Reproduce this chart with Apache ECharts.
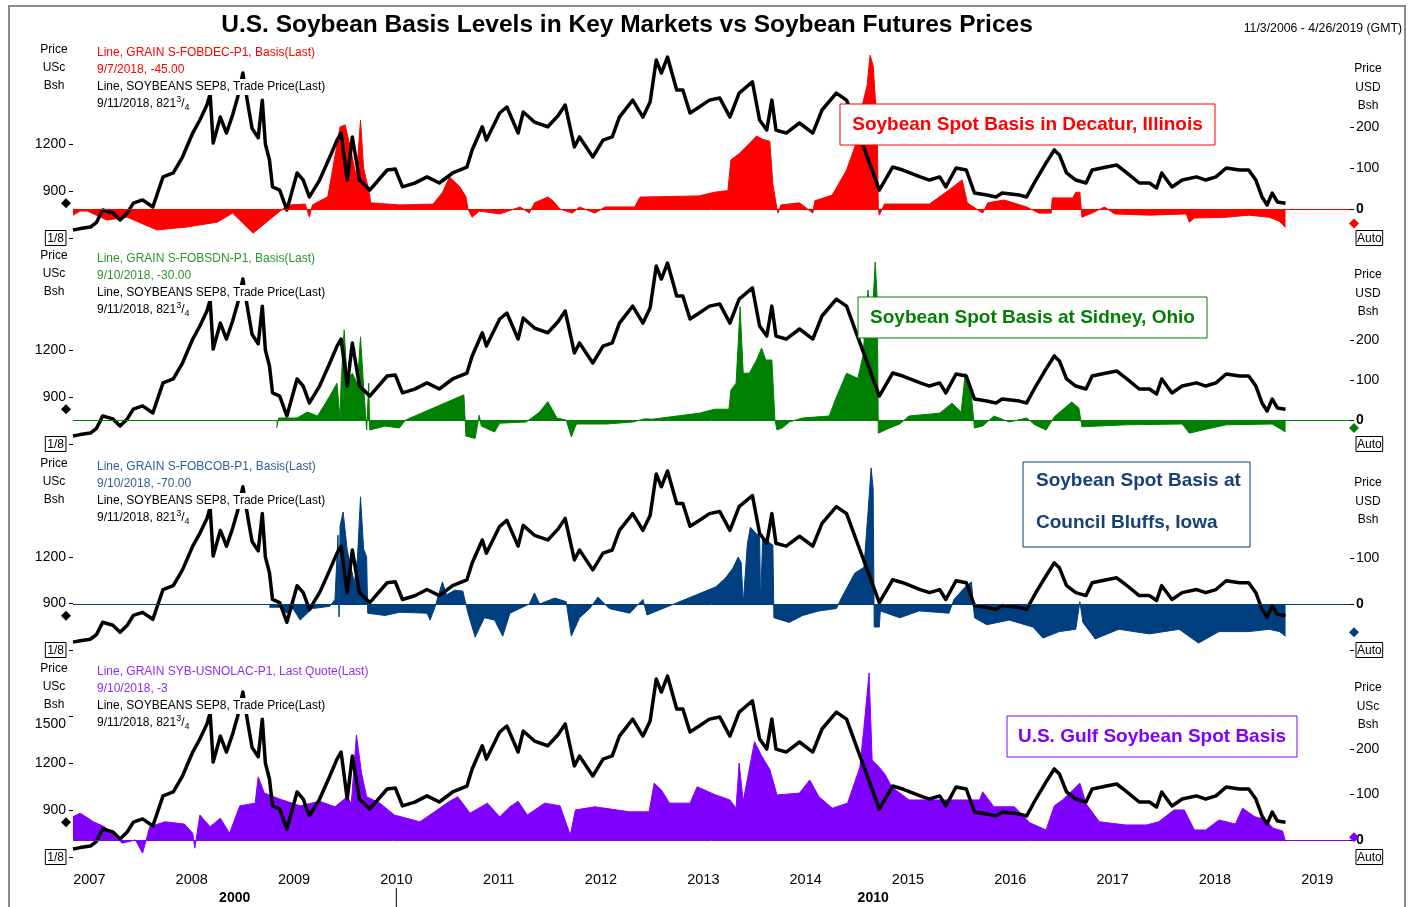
<!DOCTYPE html>
<html>
<head>
<meta charset="utf-8">
<script src="https://cdn.jsdelivr.net/npm/echarts@6/dist/echarts.min.js"></script>
<style>
html, body { margin: 0; padding: 0; background: #fff; }
#main { width: 1413px; height: 907px; }
</style>
</head>
<body>
<div id="main"></div>
<script>
// x values are decimal years
var years = [2007, 2008, 2009, 2010, 2011, 2012, 2013, 2014, 2015, 2016, 2017, 2018, 2019];
var xMin = 2006.84, xMax = 2019.32;

// soybean futures, US cents / bushel
var futuresPrice = [
  [2006.84,651],[2006.91,660],[2007.01,670],[2007.07,700],[2007.13,779],[2007.23,760],[2007.30,715],
  [2007.37,760],[2007.43,823],[2007.52,843],[2007.62,798],[2007.72,990],[2007.82,1015],[2007.91,1117],
  [2008.01,1270],[2008.08,1353],[2008.15,1450],[2008.18,1520],[2008.21,1206],[2008.28,1372],[2008.34,1270],
  [2008.40,1385],[2008.45,1500],[2008.50,1653],[2008.55,1450],[2008.59,1300],[2008.65,1240],[2008.69,1480],
  [2008.72,1200],[2008.76,1098],[2008.79,926],[2008.86,906],[2008.93,779],[2009.03,1015],[2009.09,970],
  [2009.15,862],[2009.25,970],[2009.35,1117],[2009.42,1225],[2009.46,1270],[2009.52,970],[2009.57,1245],
  [2009.64,970],[2009.74,906],[2009.91,1034],[2009.99,1040],[2010.06,926],[2010.18,950],[2010.30,990],
  [2010.42,951],[2010.55,1015],[2010.69,1053],[2010.74,1160],[2010.84,1310],[2010.88,1225],[2011.01,1398],
  [2011.08,1436],[2011.19,1270],[2011.24,1404],[2011.35,1340],[2011.48,1310],[2011.58,1380],[2011.65,1449],
  [2011.74,1181],[2011.79,1245],[2011.92,1117],[2012.02,1225],[2012.11,1245],[2012.18,1372],[2012.31,1480],
  [2012.41,1372],[2012.48,1468],[2012.54,1736],[2012.59,1653],[2012.65,1755],[2012.74,1545],[2012.80,1545],
  [2012.87,1398],[2012.96,1436],[2013.06,1480],[2013.16,1494],[2013.26,1372],[2013.35,1525],[2013.48,1596],
  [2013.55,1353],[2013.62,1289],[2013.67,1480],[2013.71,1289],[2013.81,1270],[2013.94,1334],[2014.07,1270],
  [2014.16,1417],[2014.30,1525],[2014.40,1480],[2014.50,1300],[2014.59,1140],[2014.72,906],[2014.85,1053],
  [2014.95,1034],[2015.12,990],[2015.21,970],[2015.31,990],[2015.37,926],[2015.47,1047],[2015.57,1034],
  [2015.65,887],[2015.77,874],[2015.86,862],[2015.92,887],[2016.09,874],[2016.16,862],[2016.25,970],
  [2016.35,1079],[2016.43,1162],[2016.48,1130],[2016.55,1015],[2016.64,970],[2016.74,951],[2016.80,1034],
  [2016.94,1053],[2017.04,1066],[2017.13,1021],[2017.26,951],[2017.36,951],[2017.43,919],[2017.48,1015],
  [2017.58,926],[2017.68,970],[2017.82,990],[2017.91,970],[2018.01,990],[2018.11,1047],[2018.24,1034],
  [2018.33,1034],[2018.40,970],[2018.46,862],[2018.51,811],[2018.56,887],[2018.61,830],[2018.69,822]
];
var lastPrice = 821.75;

// spot basis, cents / bushel
var decaturBasis = [
  [2006.84,-15],[2006.91,-5],[2006.98,-5],[2007.17,-27],[2007.37,-20],[2007.66,-51],[2007.95,-44],
  [2008.25,-32],[2008.40,-10],[2008.60,-59],[2008.79,-20],[2008.89,0],[2008.96,10],[2009.11,12],
  [2009.15,-20],[2009.18,10],[2009.33,30],[2009.38,100],[2009.45,200],[2009.50,205],[2009.55,150],
  [2009.61,78],[2009.65,217],[2009.68,100],[2009.73,46],[2009.75,15],[2010.03,10],[2010.36,12],
  [2010.45,40],[2010.52,78],[2010.62,54],[2010.68,30],[2010.70,0],[2010.74,-20],[2010.81,-5],
  [2011.01,-12],[2011.21,5],[2011.30,-10],[2011.35,15],[2011.48,29],[2011.53,20],[2011.60,0],
  [2011.72,-10],[2011.79,5],[2011.94,-10],[2012.04,5],[2012.33,5],[2012.38,29],[2012.96,32],
  [2013.11,41],[2013.24,45],[2013.27,120],[2013.35,135],[2013.45,160],[2013.52,178],[2013.58,170],
  [2013.65,165],[2013.68,60],[2013.72,0],[2013.73,-10],[2013.76,10],[2013.94,15],[2014.07,-10],
  [2014.09,20],[2014.26,34],[2014.40,95],[2014.48,151],[2014.55,250],[2014.60,300],[2014.63,375],
  [2014.66,350],[2014.68,273],[2014.70,200],[2014.71,0],[2014.72,-15],[2014.77,12],[2015.21,12],
  [2015.36,39],[2015.53,71],[2015.58,15],[2015.73,-10],[2015.78,15],[2015.94,22],[2016.16,5],
  [2016.28,-10],[2016.40,-10],[2016.41,27],[2016.61,27],[2016.64,41],[2016.68,41],[2016.70,-20],
  [2016.80,-10],[2016.92,5],[2017.02,-12],[2017.36,-15],[2017.72,-12],[2017.75,-32],[2017.80,-22],
  [2018.11,-20],[2018.33,-15],[2018.53,-20],[2018.63,-30],[2018.69,-45]
];
var sidneyBasis = [
  [2008.83,-20],[2008.85,5],[2009.03,5],[2009.13,20],[2009.18,15],[2009.23,10],[2009.35,60],
  [2009.42,92],[2009.45,0],[2009.46,92],[2009.49,225],[2009.52,100],[2009.57,117],[2009.62,90],
  [2009.65,208],[2009.68,83],[2009.71,-25],[2009.73,92],[2009.74,-25],[2009.89,-15],[2010.03,-20],
  [2010.09,0],[2010.10,3],[2010.66,63],[2010.68,-40],[2010.77,-46],[2010.81,12],[2010.83,-15],
  [2010.96,-30],[2011.01,-8],[2011.27,-5],[2011.40,20],[2011.48,46],[2011.57,5],[2011.66,0],
  [2011.71,-42],[2011.76,-10],[2012.05,-10],[2012.31,-5],[2012.43,3],[2012.50,2],[2012.96,17],
  [2013.11,27],[2013.25,27],[2013.27,75],[2013.32,92],[2013.36,283],[2013.39,117],[2013.45,117],
  [2013.52,150],[2013.57,180],[2013.61,150],[2013.67,150],[2013.70,0],[2013.72,-25],[2013.77,-20],
  [2013.84,-5],[2013.97,5],[2014.23,10],[2014.30,57],[2014.40,117],[2014.51,104],[2014.56,160],
  [2014.61,325],[2014.64,200],[2014.68,395],[2014.70,300],[2014.71,-33],[2014.82,-20],[2014.92,-10],
  [2015.01,10],[2015.31,17],[2015.43,42],[2015.52,20],[2015.56,117],[2015.62,60],[2015.65,-20],
  [2015.73,-15],[2015.84,10],[2015.99,-5],[2016.16,5],[2016.24,-12],[2016.35,-25],[2016.43,8],
  [2016.60,45],[2016.67,30],[2016.70,-17],[2017.13,-12],[2017.68,-10],[2017.75,-33],[2017.88,-25],
  [2018.11,-12],[2018.56,-10],[2018.69,-30]
];
var councilBluffsBasis = [
  [2008.76,-7],[2008.86,-7],[2008.93,-20],[2008.99,-10],[2009.06,-35],[2009.13,-20],[2009.18,-10],
  [2009.35,-5],[2009.40,10],[2009.43,150],[2009.44,-28],[2009.45,170],[2009.48,200],[2009.52,117],
  [2009.59,46],[2009.62,100],[2009.65,233],[2009.68,120],[2009.71,102],[2009.72,-20],[2009.89,-25],
  [2010.03,-18],[2010.30,-20],[2010.33,-35],[2010.38,-5],[2010.45,48],[2010.49,20],[2010.57,30],
  [2010.65,28],[2010.70,-20],[2010.77,-72],[2010.86,-30],[2010.96,-35],[2011.04,-70],[2011.11,-20],
  [2011.30,0],[2011.35,24],[2011.40,0],[2011.55,13],[2011.66,5],[2011.71,-70],[2011.79,-30],
  [2011.89,-10],[2011.97,15],[2012.08,-10],[2012.28,-20],[2012.41,10],[2012.45,-24],[2013.12,37],
  [2013.21,55],[2013.29,78],[2013.34,102],[2013.37,90],[2013.39,0],[2013.43,130],[2013.46,167],
  [2013.52,152],[2013.55,150],[2013.56,0],[2013.58,143],[2013.68,128],[2013.69,-30],[2013.84,-40],
  [2013.97,-25],[2014.13,-15],[2014.30,-10],[2014.35,13],[2014.48,67],[2014.57,80],[2014.61,200],
  [2014.64,296],[2014.66,250],[2014.67,-50],[2014.72,-50],[2014.73,-15],[2014.92,-30],[2015.11,-15],
  [2015.40,-20],[2015.45,10],[2015.55,35],[2015.62,48],[2015.65,-30],[2015.77,-45],[2015.99,-35],
  [2016.22,-50],[2016.32,-74],[2016.48,-60],[2016.64,-55],[2016.68,5],[2016.71,-40],[2016.83,-76],
  [2017.06,-55],[2017.36,-65],[2017.65,-55],[2017.84,-85],[2018.04,-60],[2018.33,-60],[2018.53,-55],
  [2018.63,-60],[2018.69,-70]
];
var gulfBasis = [
  [2006.84,51],[2006.91,59],[2007.04,40],[2007.15,29],[2007.25,7],[2007.32,-7],[2007.45,0],
  [2007.52,-29],[2007.59,29],[2007.74,40],[2007.93,35],[2008.01,15],[2008.03,-18],[2008.08,55],
  [2008.18,29],[2008.28,48],[2008.37,15],[2008.47,75],[2008.62,81],[2008.65,139],[2008.71,103],
  [2008.86,90],[2009.06,75],[2009.25,85],[2009.40,73],[2009.52,95],[2009.56,80],[2009.61,231],
  [2009.66,147],[2009.71,95],[2009.84,81],[2009.98,55],[2010.23,40],[2010.36,60],[2010.52,85],
  [2010.60,95],[2010.72,59],[2010.89,81],[2011.01,51],[2011.11,73],[2011.19,85],[2011.28,55],
  [2011.45,81],[2011.60,75],[2011.70,11],[2011.75,66],[2011.94,73],[2012.28,62],[2012.47,62],
  [2012.52,125],[2012.59,110],[2012.67,81],[2012.87,81],[2012.94,117],[2013.11,100],[2013.26,88],
  [2013.32,70],[2013.35,169],[2013.39,85],[2013.50,216],[2013.57,185],[2013.65,155],[2013.72,99],
  [2013.94,103],[2014.04,132],[2014.13,95],[2014.26,70],[2014.41,81],[2014.53,160],[2014.58,271],
  [2014.62,367],[2014.65,176],[2014.72,160],[2014.78,143],[2014.84,117],[2015.01,88],[2015.50,88],
  [2015.70,88],[2015.73,106],[2015.84,73],[2016.04,73],[2016.19,38],[2016.35,22],[2016.43,75],
  [2016.51,88],[2016.58,103],[2016.68,125],[2016.74,80],[2016.87,40],[2017.13,33],[2017.33,33],
  [2017.45,40],[2017.60,66],[2017.70,66],[2017.80,22],[2017.91,22],[2018.04,44],[2018.20,35],
  [2018.27,70],[2018.39,51],[2018.49,45],[2018.57,26],[2018.66,20],[2018.69,-3]
];

var FONT = 'Liberation Sans, Arial, sans-serif';

var panels = [
  {
    data: decaturBasis, color: '#ff0000', legendColor: '#ff0000',
    top: 50, height: 188, rMin: -70.7, rMax: 387.8, rTicks: [0, 100, 200], autoTick: false,
    lTicks: [600, 900, 1200], unitR: 'USD',
    legend: ['Line, GRAIN S-FOBDEC-P1, Basis(Last)', '9/7/2018, -45.00'],
    box: { x: 840, y: 104, w: 375, h: 41, lines: ['Soybean Spot Basis in Decatur, Illinois'], textColor: '#ff0000' }
  },
  {
    data: sidneyBasis, color: '#008000', legendColor: '#2a962a',
    top: 256, height: 188, rMin: -60, rMax: 410, rTicks: [0, 100, 200], autoTick: false,
    lTicks: [600, 900, 1200], unitR: 'USD',
    legend: ['Line, GRAIN S-FOBSDN-P1, Basis(Last)', '9/10/2018, -30.00'],
    box: { x: 858, y: 297, w: 349, h: 41, lines: ['Soybean Spot Basis at Sidney, Ohio'], textColor: '#008000' }
  },
  {
    data: councilBluffsBasis, color: '#003f7f', legendColor: '#2f5e96',
    top: 464, height: 186, rMin: -100, rMax: 304.3, rTicks: [0, 100], autoTick: true,
    lTicks: [600, 900, 1200], unitR: 'USD',
    legend: ['Line, GRAIN S-FOBCOB-P1, Basis(Last)', '9/10/2018, -70.00'],
    box: { x: 1023, y: 462, w: 227, h: 85, lines: ['Soybean Spot Basis at', 'Council Bluffs, Iowa'], textColor: '#173f78', left: true }
  },
  {
    data: gulfBasis, color: '#8000ff', legendColor: '#8c2cff',
    top: 669, height: 188, rMin: -37.4, rMax: 375.8, rTicks: [0, 100, 200], autoTick: false,
    lTicks: [600, 900, 1200, 1500], unitR: 'USc',
    legend: ['Line, GRAIN SYB-USNOLAC-P1, Last Quote(Last)', '9/10/2018, -3'],
    box: { x: 1007, y: 716, w: 290, h: 41, lines: ['U.S. Gulf Soybean Spot Basis'], textColor: '#8000ff' }
  }
];

var chart = echarts.init(document.getElementById('main'));

var grids = [], xAxes = [], yAxes = [], series = [], graphics = [];

panels.forEach(function (p, i) {
  grids.push({ left: 73, right: 63, top: p.top, height: p.height });
  xAxes.push({
    type: 'value', gridIndex: i, min: xMin, max: xMax, show: i === 3,
    axisLine: { show: false }, axisTick: { show: false }, splitLine: { show: false },
    axisLabel: { customValues: years, formatter: function (v) { return String(v); },
      fontSize: 14.5, color: '#000', margin: 15, fontFamily: FONT }
  });
  yAxes.push({
    type: 'value', gridIndex: i, position: 'left', min: 600, max: 1800,
    splitLine: { show: false }, axisLine: { show: false },
    axisTick: { show: true, length: 4, customValues: p.lTicks, lineStyle: { color: '#000' } },
    axisLabel: {
      customValues: p.lTicks, margin: 7, fontSize: 14, color: '#000', fontFamily: FONT,
      formatter: function (v) {
        if (v === 600) return '{box|1/8}';
        if (v === 1500) return '{low|1500}';
        return String(v);
      },
      rich: {
        box: { fontSize: 12, borderColor: '#000', borderWidth: 1, padding: [2, 2, 1, 2], fontFamily: FONT, color: '#000' },
        low: { fontSize: 14, padding: [16, 0, 0, 0], fontFamily: FONT, color: '#000' }
      }
    }
  });
  var rLabels = p.rTicks.concat([p.rMin]);
  yAxes.push({
    type: 'value', gridIndex: i, position: 'right', min: p.rMin, max: p.rMax,
    splitLine: { show: false }, axisLine: { show: false },
    axisTick: { show: true, length: 4, customValues: p.autoTick ? rLabels : p.rTicks, lineStyle: { color: '#000' } },
    axisLabel: {
      customValues: rLabels, margin: 6, fontSize: 14, color: '#000', fontFamily: FONT,
      formatter: function (v) {
        if (v < p.rMin + 0.5) return '{box|Auto}';
        if (v === 0) return '{b|0}';
        return String(v);
      },
      rich: {
        box: { fontSize: 12, borderColor: '#000', borderWidth: 1, padding: [2, 1, 1, 1], fontFamily: FONT, color: '#000' },
        b: { fontSize: 14, fontWeight: 'bold', fontFamily: FONT, color: '#000' }
      }
    }
  });
  series.push({
    type: 'line', xAxisIndex: i, yAxisIndex: 2 * i + 1, data: p.data,
    symbol: 'none', z: 2,
    lineStyle: { color: p.color, width: 1 },
    areaStyle: { color: p.color, opacity: 1, origin: 0 },
    markLine: {
      silent: true, symbol: ['none', 'none'], label: { show: false },
      lineStyle: { color: p.color, width: 1, type: 'solid' },
      data: [{ yAxis: 0 }]
    }
  });
  series.push({
    type: 'line', xAxisIndex: i, yAxisIndex: 2 * i, data: futuresPrice,
    symbol: 'none', z: 3,
    lineStyle: { color: '#000', width: 3.5, join: 'round' }
  });

  // unit labels
  ['Price', 'USc', 'Bsh'].forEach(function (t, k) {
    graphics.push({ type: 'text', x: 54, y: p.top + k * 18, z: 50,
      style: { text: t, fill: '#000', font: '12px ' + FONT, textAlign: 'center', textVerticalAlign: 'middle' } });
  });
  ['Price', p.unitR, 'Bsh'].forEach(function (t, k) {
    graphics.push({ type: 'text', x: 1368, y: p.top + 19 + k * 18.5, z: 50,
      style: { text: t, fill: '#000', font: '12px ' + FONT, textAlign: 'center', textVerticalAlign: 'middle' } });
  });

  // series legend text
  var leg = [
    { text: p.legend[0], color: p.legendColor },
    { text: p.legend[1], color: p.legendColor },
    { text: 'Line, SOYBEANS SEP8, Trade Price(Last)', color: '#000' }
  ];
  leg.forEach(function (l, k) {
    graphics.push({ type: 'text', x: 97, y: p.top + 3 + k * 17, z: 50,
      style: { text: l.text, fill: l.color, font: '12px ' + FONT, textVerticalAlign: 'middle',
        backgroundColor: '#fff', padding: [2, 1, 2, 0] } });
  });
  graphics.push({ type: 'text', x: 97, y: p.top + 54, z: 50,
    style: {
      text: '{t|9/11/2018, 821}{s|3}{t|/}{d|4}', textVerticalAlign: 'middle',
      backgroundColor: '#fff', padding: [0, 2, 0, 0],
      rich: {
        t: { fontSize: 12, fontFamily: FONT, fill: '#000', lineHeight: 17 },
        s: { fontSize: 9, fontFamily: FONT, fill: '#000', lineHeight: 17, verticalAlign: 'top' },
        d: { fontSize: 9, fontFamily: FONT, fill: '#000', lineHeight: 15, verticalAlign: 'bottom' }
      }
    } });

  // boxed panel title
  var b = p.box;
  graphics.push({ type: 'rect', z: 50, shape: { x: b.x, y: b.y, width: b.w, height: b.h },
    style: { fill: '#fff', stroke: p.color, lineWidth: 1 } });
  b.lines.forEach(function (t, k) {
    var ty = b.lines.length === 1 ? b.y + b.h / 2 : b.y + 19 + k * 42;
    graphics.push({ type: 'text', z: 51, x: b.left ? b.x + 13 : b.x + b.w / 2, y: ty,
      style: { text: t, fill: b.textColor, font: 'bold 19px ' + FONT,
        textAlign: b.left ? 'left' : 'center', textVerticalAlign: 'middle' } });
  });
});

// title, range, frame
graphics.push({ type: 'rect', z: 60, shape: { x: 9, y: 6, width: 1396, height: 920 },
  style: { fill: 'none', stroke: '#8a8a8a', lineWidth: 2 } });
graphics.push({ type: 'text', x: 627, y: 25, z: 50,
  style: { text: 'U.S. Soybean Basis Levels in Key Markets vs Soybean Futures Prices', fill: '#000',
    font: 'bold 24.5px ' + FONT, textAlign: 'center', textVerticalAlign: 'middle' } });
graphics.push({ type: 'text', x: 1402, y: 29, z: 50,
  style: { text: '11/3/2006 - 4/26/2019 (GMT)', fill: '#000', font: '12.3px ' + FONT,
    textAlign: 'right', textVerticalAlign: 'middle' } });

chart.setOption({
  animation: false,
  textStyle: { fontFamily: FONT },
  grid: grids,
  xAxis: xAxes,
  yAxis: yAxes,
  series: series,
  graphic: graphics
});

// last-value diamonds and decade labels, placed through the axes
var extra = [];
function diamond(cx, cy, color) {
  return { type: 'polygon', z: 55,
    shape: { points: [[cx, cy - 5], [cx + 5, cy], [cx, cy + 5], [cx - 5, cy]] },
    style: { fill: color } };
}
panels.forEach(function (p, i) {
  var ly = chart.convertToPixel({ yAxisIndex: 2 * i }, lastPrice);
  extra.push(diamond(66, ly, '#000'));
  var last = p.data[p.data.length - 1][1];
  var ry = chart.convertToPixel({ yAxisIndex: 2 * i + 1 }, last);
  extra.push(diamond(1354, ry - 4, p.color));
});
var x2010 = chart.convertToPixel({ xAxisIndex: 3 }, 2010);
var xa = chart.convertToPixel({ xAxisIndex: 3 }, xMin);
var xb = chart.convertToPixel({ xAxisIndex: 3 }, xMax);
extra.push({ type: 'text', x: (xa + x2010) / 2, y: 898, z: 50,
  style: { text: '2000', fill: '#000', font: 'bold 14px ' + FONT, textAlign: 'center', textVerticalAlign: 'middle' } });
extra.push({ type: 'text', x: (x2010 + xb) / 2, y: 898, z: 50,
  style: { text: '2010', fill: '#000', font: 'bold 14px ' + FONT, textAlign: 'center', textVerticalAlign: 'middle' } });
extra.push({ type: 'line', z: 50, shape: { x1: x2010, y1: 888, x2: x2010, y2: 907 },
  style: { stroke: '#000', lineWidth: 1 } });

chart.setOption({ graphic: graphics.concat(extra) });
</script>
</body>
</html>
